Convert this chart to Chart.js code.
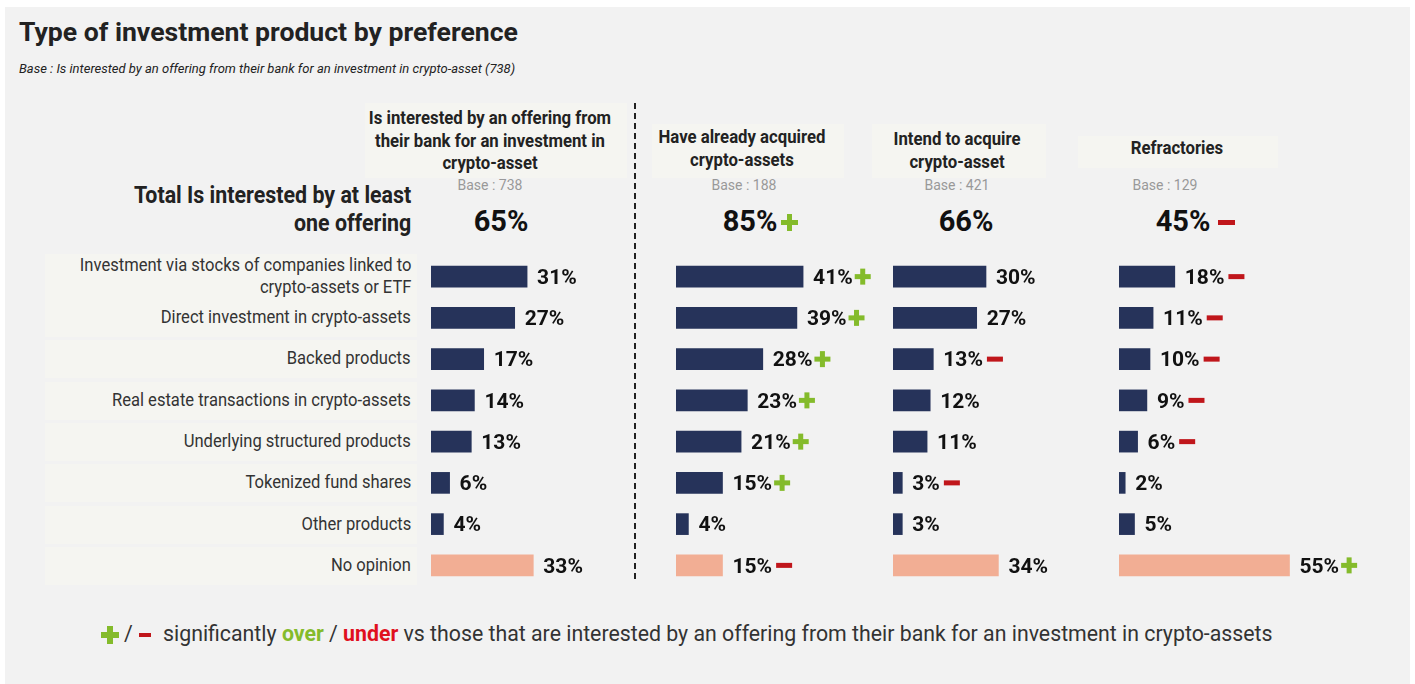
<!DOCTYPE html>
<html>
<head>
<meta charset="utf-8">
<script src="https://cdn.jsdelivr.net/npm/chart.js@4.4.1/dist/chart.umd.min.js"></script>
<style>
  html, body { margin: 0; padding: 0; background: #fff; }
  #page { position: relative; width: 1415px; height: 684px; overflow: hidden; font-family: Roboto, "Noto Sans", sans-serif; }
  #panel { position: absolute; left: 5px; top: 7px; width: 1405px; height: 677px; background: #f2f2f2; }
  .abs { position: absolute; white-space: nowrap; }
  .title { left: 19px; top: 16px; font-size: 26.6px; font-weight: 700; color: #222; }
  .sub { left: 19px; top: 61px; font-size: 13px; font-style: italic; color: #222; }
  .rowbox { position: absolute; left: 45px; width: 372px; background: #f5f5f1; }
  .hbox { position: absolute; background: #f5f5f1; }
  .cat { right: 1004px; font-size: 18px; color: #333; text-align: right; line-height: 22px; transform: scaleX(0.92); transform-origin: right center; }
  .head { font-size: 18px; font-weight: 700; color: #222; text-align: center; line-height: 22.5px; transform: scaleX(0.93); transform-origin: center center; }
  .base { font-size: 14px; color: #999; text-align: center; }
  .tot { font-size: 29px; font-weight: 700; color: #111; }
  .totlbl { right: 1004px; font-size: 23px; font-weight: 700; color: #222; text-align: right; line-height: 28px; transform: scaleX(0.93); transform-origin: right center; }
  .plus, .minus { position: absolute; }
  .foot { left: 163px; top: 621px; font-size: 21.3px; color: #333; }
  canvas { position: absolute; }
</style>
</head>
<body>
<div id="page">
  <div id="panel"></div>
  <div class="abs title">Type of investment product by preference</div>
  <div class="abs sub">Base : Is interested by an offering from their bank for an investment in crypto-asset (738)</div>
  <div id="layer"></div>
</div>
<script>
const categories = [
  'Investment via stocks of companies linked to\ncrypto-assets or ETF',
  'Direct investment in crypto-assets',
  'Backed products',
  'Real estate transactions in crypto-assets',
  'Underlying structured products',
  'Tokenized fund shares',
  'Other products',
  'No opinion'
];
const groupTitles = [
  'Is interested by an offering from\ntheir bank for an investment in\ncrypto-asset',
  'Have already acquired\ncrypto-assets',
  'Intend to acquire\ncrypto-asset',
  'Refractories'
];
const groupBases = [738, 188, 421, 129];
const groupTotals = [65, 85, 66, 45];
const totalSigns = ['', '+', '', '-'];

const interested = [31, 27, 17, 14, 13, 6, 4, 33];
const interestedSigns = ['', '', '', '', '', '', '', ''];
const acquired = [41, 39, 28, 23, 21, 15, 4, 15];
const acquiredSigns = ['+', '+', '+', '+', '+', '+', '', '-'];
const intend = [30, 27, 13, 12, 11, 3, 3, 34];
const intendSigns = ['', '', '-', '', '', '-', '', ''];
const refractories = [18, 11, 10, 9, 6, 2, 5, 55];
const refractorySigns = ['-', '-', '-', '-', '-', '', '', '+'];

const NAVY = '#26335a';
const SALMON = '#f2ae94';
const GREEN = '#84bb2b';
const RED = '#c0161b';
const PX_PER_PCT = 3.1;

const layer = document.getElementById('layer');
function addDiv(cls, text, css) {
  const d = document.createElement('div');
  d.className = 'abs ' + cls;
  d.innerHTML = text.split('\n').join('<br>');
  Object.assign(d.style, css);
  layer.appendChild(d);
  return d;
}
function addSign(sign, x, y, size) {
  // y is the vertical centre of the sign
  if (!sign) return;
  const t = Math.round(size * 0.32);
  if (sign === '+') {
    addDiv('plus', '', { left: x + 'px', top: (y - t / 2) + 'px', width: size + 'px', height: t + 'px', background: GREEN });
    addDiv('plus', '', { left: (x + (size - t) / 2) + 'px', top: (y - size / 2) + 'px', width: t + 'px', height: size + 'px', background: GREEN });
  } else {
    addDiv('minus', '', { left: x + 'px', top: (y - t / 2) + 'px', width: size + 'px', height: t + 'px', background: RED });
  }
}

// row geometry
const rowTop = 256.2;
const rowStep = 41.3;
const rowCenter = i => rowTop + rowStep * (i + 0.5);

// light boxes behind the category labels
categories.forEach((c, i) => {
  const h = i === 0 ? 46 : 38;
  const d = document.createElement('div');
  d.className = 'rowbox';
  d.style.top = (rowCenter(i) - h / 2) + 'px';
  d.style.height = h + 'px';
  layer.appendChild(d);
});
categories.forEach((c, i) => {
  const lines = c.split('\n').length;
  addDiv('cat', c, { top: (rowCenter(i) - lines * 11 - 1) + 'px' });
});

// total line
addDiv('totlbl', 'Total Is interested by at least\none offering', { top: '182px' });

// column headers
const headBoxes = [
  { left: 365, top: 103, width: 262, height: 75 },
  { left: 652, top: 124, width: 192, height: 54 },
  { left: 872, top: 124, width: 174, height: 54 },
  { left: 1078, top: 136, width: 200, height: 32 }
];
const headCenters = [490, 742, 957, 1177];
const headTops = [107, 126, 128, 137];
const baseCenters = [490, 744, 957, 1165];
const totalCenters = [501, 750, 966, 1183];

headBoxes.forEach(b => {
  const d = document.createElement('div');
  d.className = 'hbox';
  Object.assign(d.style, { left: b.left + 'px', top: b.top + 'px', width: b.width + 'px', height: b.height + 'px' });
  layer.appendChild(d);
});
groupTitles.forEach((t, i) => {
  addDiv('head', t, { left: (headCenters[i] - 200) + 'px', width: '400px', top: headTops[i] + 'px' });
  addDiv('base', 'Base : ' + groupBases[i], { left: (baseCenters[i] - 100) + 'px', width: '200px', top: '177px' });
  const tot = addDiv('tot', groupTotals[i] + '%', { top: '204px' });
  const w = tot.getBoundingClientRect().width;
  tot.style.left = (totalCenters[i] - w / 2) + 'px';
  const gap = totalSigns[i] === '-' ? 8 : 4;
  addSign(totalSigns[i], totalCenters[i] + w / 2 + gap, 222, 17);
});

// dashed separator
const sep = document.createElement('div');
Object.assign(sep.style, { position: 'absolute', left: '634px', top: '103px', width: '0', height: '476px', borderLeft: '2px dashed #222' });
layer.appendChild(sep);

// value labels with significance marks
const valueLabels = {
  id: 'valueLabels',
  afterDatasetsDraw(chart) {
    const ctx = chart.ctx;
    const signs = chart.options.plugins.valueLabels.signs;
    const meta = chart.getDatasetMeta(0);
    ctx.save();
    ctx.font = '700 21px Roboto';
    ctx.textBaseline = 'middle';
    meta.data.forEach((bar, i) => {
      const txt = chart.data.datasets[0].data[i] + '%';
      const x = bar.x + 10;
      ctx.fillStyle = '#111';
      ctx.fillText(txt, x, bar.y + 2);
      const w = ctx.measureText(txt).width;
      const s = signs[i];
      const size = 16;
      const t = 5;
      if (s === '+') {
        const sx = x + w + 2;
        ctx.fillStyle = GREEN;
        ctx.fillRect(sx, bar.y - t / 2, size, t);
        ctx.fillRect(sx + (size - t) / 2, bar.y - size / 2, t, size);
      } else if (s === '-') {
        const sx = x + w + 4;
        ctx.fillStyle = RED;
        ctx.fillRect(sx, bar.y - t / 2, size, t);
      }
    });
    ctx.restore();
  }
};

const columns = [
  { values: interested, signs: interestedSigns, left: 431, width: 200 },
  { values: acquired, signs: acquiredSigns, left: 676, width: 215 },
  { values: intend, signs: intendSigns, left: 893, width: 220 },
  { values: refractories, signs: refractorySigns, left: 1119, width: 270 }
];

columns.forEach(col => {
  const canvas = document.createElement('canvas');
  canvas.width = col.width;
  canvas.height = Math.round(rowStep * 8);
  canvas.style.left = col.left + 'px';
  canvas.style.top = rowTop + 'px';
  document.getElementById('page').appendChild(canvas);
  new Chart(canvas, {
    type: 'bar',
    data: {
      labels: categories,
      datasets: [{
        data: col.values,
        backgroundColor: col.values.map((v, i) => i === categories.length - 1 ? SALMON : NAVY),
        barThickness: 21,
        borderWidth: 0
      }]
    },
    options: {
      indexAxis: 'y',
      responsive: false,
      animation: false,
      layout: { padding: 0 },
      plugins: {
        legend: { display: false },
        tooltip: { enabled: false },
        valueLabels: { signs: col.signs }
      },
      scales: {
        x: { display: false, min: 0, max: col.width / PX_PER_PCT },
        y: { display: false }
      }
    },
    plugins: [valueLabels]
  });
});

// footnote
addSign('+', 101, 635, 18);
addDiv('foot', '/', { left: '124px' });
addSign('-', 139, 635, 12);
addDiv('foot', 'significantly <span style="color:#84bb2b;font-weight:700">over</span> / <span style="color:#e0101e;font-weight:700">under</span> vs those that are interested by an offering from their bank for an investment in crypto-assets', {});
</script>
</body>
</html>
